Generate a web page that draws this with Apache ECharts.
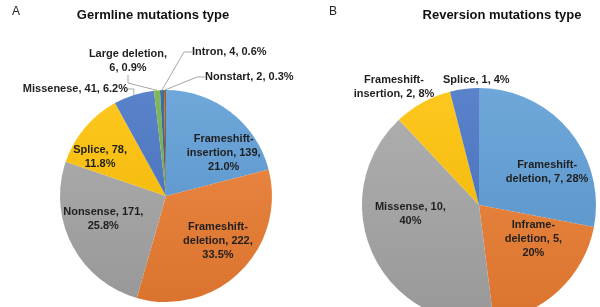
<!DOCTYPE html>
<html>
<head>
<meta charset="utf-8">
<script src="https://cdn.jsdelivr.net/npm/echarts@6/dist/echarts.min.js"></script>
<style>
  html, body { margin: 0; padding: 0; background: #fff; }
  #chart { width: 600px; height: 307px; }
</style>
</head>
<body>
<div id="chart"></div>
<script>
// A: germline mutations
var germNames = ['Frameshift-insertion', 'Frameshift-deletion', 'Nonsense', 'Splice', 'Missenese', 'Large deletion', 'Intron', 'Nonstart'];
var germValues = [139, 222, 171, 78, 41, 6, 4, 2];
var germLabels = ['Frameshift-\ninsertion, 139,\n21.0%', 'Frameshift-\ndeletion, 222,\n33.5%', 'Nonsense, 171,\n25.8%', 'Splice, 78,\n11.8%',
  'Missenese, 41, 6.2%', 'Large deletion,\n6, 0.9%', 'Intron, 4, 0.6%', 'Nonstart, 2, 0.3%'];

// B: reversion mutations
var revNames = ['Frameshift-deletion', 'Inframe-deletion', 'Missense', 'Frameshift-insertion', 'Splice'];
var revValues = [7, 5, 10, 2, 1];
var revLabels = ['Frameshift-\ndeletion, 7, 28%', 'Inframe-\ndeletion, 5,\n20%', 'Missense, 10,\n40%', 'Frameshift-\ninsertion, 2, 8%', 'Splice, 1, 4%'];

var palette = ['#5B9BD5', '#ED7D31', '#A5A5A5', '#FFC000', '#4472C4', '#70AD47', '#255E91', '#9E480E'];

function shade(hex, amt) {
  var n = parseInt(hex.slice(1), 16);
  var r = (n >> 16) & 255, g = (n >> 8) & 255, b = n & 255;
  function f(c) {
    c = amt > 0 ? c + (255 - c) * amt : c * (1 + amt);
    return Math.round(Math.max(0, Math.min(255, c)));
  }
  return 'rgb(' + f(r) + ',' + f(g) + ',' + f(b) + ')';
}

function fill(hex, y0, y1) {
  return new echarts.graphic.LinearGradient(0, y0, 0, y1, [
    { offset: 0, color: shade(hex, 0.12) },
    { offset: 1, color: shade(hex, -0.08) }
  ], true);
}

var labelFont = { fontFamily: 'Liberation Sans, Arial', fontWeight: 'bold', fontSize: 11, color: '#1f1f1f', lineHeight: 14 };

function pieData(names, values, labels, y0, y1, outer) {
  return names.map(function (n, i) {
    var isOut = outer.indexOf(i) >= 0;
    return {
      name: n, value: values[i],
      itemStyle: { color: fill(palette[i], y0, y1) },
      label: Object.assign({ show: isOut, formatter: labels[i] }, labelFont)
    };
  });
}

function labelData(names, values, labels, outer) {
  return names.map(function (n, i) {
    return {
      name: n, value: values[i],
      label: Object.assign({ show: outer.indexOf(i) < 0, formatter: labels[i] }, labelFont)
    };
  });
}

var germOuter = [4, 5, 6, 7];
var revOuter = [3, 4];

// outside label anchors (leader lines drawn by echarts)
var outerPos = {
  '0': { 4: { x: 128, y: 89, align: 'right' }, 5: { x: 128, y: 61, align: 'center' },
         6: { x: 192, y: 52, align: 'left' }, 7: { x: 205, y: 77, align: 'left' } },
  '2': { 3: { x: 394, y: 87, align: 'center' }, 4: { x: 443, y: 80, align: 'left' } }
};
// nudges for inside labels, Excel puts them a bit off the mid radius
var innerNudge = {
  '1': { 0: [13, 15], 1: [1, -7], 2: [2, -11], 3: [-10, 8] },
  '3': { 0: [8, 17], 1: [1, -23], 2: [2, -24] }
};

function outerLayout(p) {
  var o = outerPos[p.seriesIndex][p.dataIndex];
  return o ? { x: o.x, y: o.y, align: o.align, verticalAlign: 'middle' } : {};
}
function innerLayout(p) {
  var d = innerNudge[p.seriesIndex][p.dataIndex];
  return d ? { dx: d[0], dy: d[1] } : {};
}

var option = {
  animation: false,
  title: [
    { text: 'A', left: 7, top: 1, textStyle: { fontFamily: 'Liberation Sans, Arial', fontWeight: 'normal', fontSize: 12, color: '#222' } },
    { text: 'Germline mutations type', left: 148, top: 4, textAlign: 'center', textStyle: { fontFamily: 'Liberation Sans, Arial', fontWeight: 'bold', fontSize: 13, color: '#111' } },
    { text: 'B', left: 324, top: 1, textStyle: { fontFamily: 'Liberation Sans, Arial', fontWeight: 'normal', fontSize: 12, color: '#222' } },
    { text: 'Reversion mutations type', left: 497, top: 4, textAlign: 'center', textStyle: { fontFamily: 'Liberation Sans, Arial', fontWeight: 'bold', fontSize: 13, color: '#111' } }
  ],
  series: [
    {
      type: 'pie', center: [166, 196], radius: 106, avoidLabelOverlap: false,
      label: { position: 'outside' },
      labelLine: { show: true, length: 8, length2: 8, lineStyle: { color: '#a6a6a6', width: 1 } },
      labelLayout: outerLayout,
      data: pieData(germNames, germValues, germLabels, 90, 302, germOuter)
    },
    {
      type: 'pie', center: [166, 196], radius: [0, 140], silent: true, z: 5,
      itemStyle: { color: 'rgba(0,0,0,0)' },
      label: { position: 'inside' }, labelLine: { show: false },
      labelLayout: innerLayout,
      data: labelData(germNames, germValues, germLabels, germOuter)
    },
    {
      type: 'pie', center: [479, 205], radius: 117, avoidLabelOverlap: false,
      label: { position: 'outside' },
      labelLine: { show: false },
      labelLayout: outerLayout,
      data: pieData(revNames, revValues, revLabels, 88, 322, revOuter)
    },
    {
      type: 'pie', center: [479, 205], radius: [0, 150], silent: true, z: 5,
      itemStyle: { color: 'rgba(0,0,0,0)' },
      label: { position: 'inside' }, labelLine: { show: false },
      labelLayout: innerLayout,
      data: labelData(revNames, revValues, revLabels, revOuter)
    }
  ]
};

var chart = echarts.init(document.getElementById('chart'));
chart.setOption(option);
</script>
</body>
</html>
